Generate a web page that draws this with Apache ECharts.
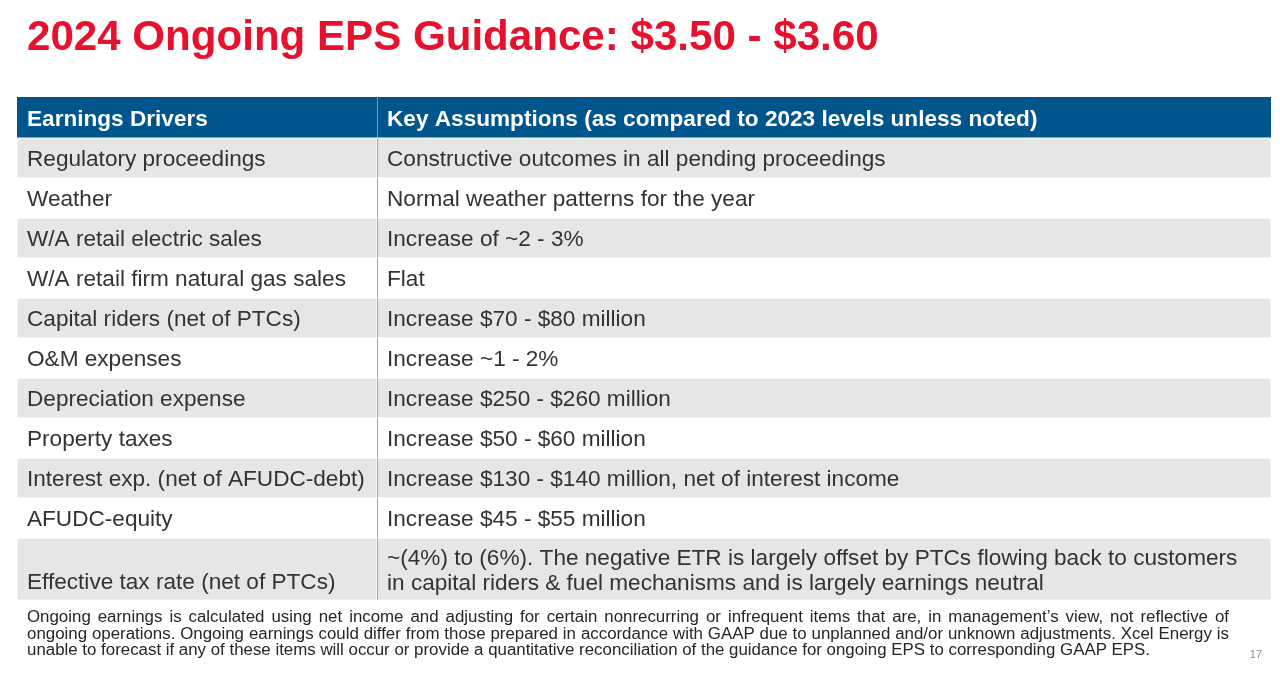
<!DOCTYPE html>
<html>
<head>
<meta charset="utf-8">
<script src="https://cdn.jsdelivr.net/npm/echarts@6/dist/echarts.min.js"></script>
<style>
html,body{margin:0;padding:0;background:#fff;}
#main{width:1280px;height:674px;}
</style>
</head>
<body>
<div id="main"></div>
<script>
// ---------- DATA ----------
const titleText = '2024 Ongoing EPS Guidance: $3.50 - $3.60';
const headers = ['Earnings Drivers', 'Key Assumptions (as compared to 2023 levels unless noted)'];
const drivers = [
  'Regulatory proceedings',
  'Weather',
  'W/A retail electric sales',
  'W/A retail firm natural gas sales',
  'Capital riders (net of PTCs)',
  'O&M expenses',
  'Depreciation expense',
  'Property taxes',
  'Interest exp. (net of AFUDC-debt)',
  'AFUDC-equity',
  'Effective tax rate (net of PTCs)'
];
const assumptions = [
  'Constructive outcomes in all pending proceedings',
  'Normal weather patterns for the year',
  'Increase of ~2 - 3%',
  'Flat',
  'Increase $70 - $80 million',
  'Increase ~1 - 2%',
  'Increase $250 - $260 million',
  'Increase $50 - $60 million',
  'Increase $130 - $140 million, net of interest income',
  'Increase $45 - $55 million',
  '~(4%) to (6%). The negative ETR is largely offset by PTCs flowing back to customers\nin capital riders & fuel mechanisms and is largely earnings neutral'
];
const footnoteLines = [
  'Ongoing earnings is calculated using net income and adjusting for certain nonrecurring or infrequent items that are, in management\u2019s view, not reflective of',
  'ongoing operations. Ongoing earnings could differ from those prepared in accordance with GAAP due to unplanned and/or unknown adjustments. Xcel Energy is',
  'unable to forecast if any of these items will occur or provide a quantitative reconciliation of the guidance for ongoing EPS to corresponding GAAP EPS.'
];
const pageNumber = '17';

// ---------- LAYOUT ----------
const FONT = '"Liberation Sans", Arial, Helvetica, sans-serif';
const rows = [headers].concat(drivers.map((d, i) => [d, assumptions[i]]));
const HEADER_H = 41, ROW_H = 40, EXTRA_LINE_H = 22;
const CELL_FONT = 22.6;
const rowH = rows.map((r, i) => i === 0 ? HEADER_H : ROW_H + (r[1].split('\n').length - 1) * EXTRA_LINE_H);
const rowTop = [];
rowH.reduce((acc, h, i) => { rowTop[i] = acc; return acc + h; }, 0);
const totalH = rowH.reduce((a, b) => a + b, 0);
const colX = [0, 0.2871, 1];

const cellData = [];
rows.forEach((r, ri) => { cellData.push([0, ri]); cellData.push([1, ri]); });

function renderCell(params, api) {
  const c = api.value(0), r = api.value(1);
  const p0 = api.coord([colX[c], rowTop[r]]);
  const p1 = api.coord([colX[c + 1], rowTop[r] + rowH[r]]);
  const x0 = p0[0], y0 = Math.min(p0[1], p1[1]), x1 = p1[0], y1 = Math.max(p0[1], p1[1]);
  const isHeader = r === 0;
  const fill = isHeader ? '#00558c' : (r % 2 === 1 ? '#e6e6e6' : '#ffffff');
  const text = rows[r][c];
  const children = [{
    type: 'rect',
    shape: { x: x0, y: y0, width: x1 - x0, height: y1 - y0 },
    style: { fill: fill, stroke: isHeader ? null : '#ffffff', lineWidth: 1 }
  }];
  const multi = text.indexOf('\n') >= 0;
  const tall = rowH[r] > ROW_H + 1 && !isHeader;
  let ty, va;
  if (tall && !multi) { ty = y1 - 5; va = 'bottom'; }
  else { ty = (y0 + y1) / 2 + 2; va = 'middle'; }
  children.push({
    type: 'text',
    style: {
      x: x0 + 10, y: ty, text: text,
      fill: isHeader ? '#ffffff' : '#333333',
      fontSize: CELL_FONT, fontWeight: isHeader ? 'bold' : 'normal',
      fontFamily: FONT, align: 'left', verticalAlign: va, lineHeight: 25
    }
  });
  if (c === 1) {
    children.push({
      type: 'line',
      shape: { x1: x0 + 0.5, y1: y0, x2: x0 + 0.5, y2: y1 },
      style: { stroke: isHeader ? '#7a9cbb' : '#a6a6a6', lineWidth: 1 }
    });
  }
  return { type: 'group', children: children };
}

// footnote: slightly condensed-height font stretched horizontally; first lines justified
const FOOT_SIZE = 15.6, FOOT_LEFT = 27, FOOT_RIGHT = 1229, FOOT_LAST_RIGHT = 1150, FOOT_TOP = 618, FOOT_LH = 16.4;
const ctx = document.createElement('canvas').getContext('2d');
ctx.font = FOOT_SIZE + 'px ' + FONT;
const lastLine = footnoteLines[footnoteLines.length - 1];
const FOOT_SX = (FOOT_LAST_RIGHT - FOOT_LEFT) / ctx.measureText(lastLine).width;
const graphics = [];
footnoteLines.forEach((line, li) => {
  const y = FOOT_TOP + li * FOOT_LH;
  if (li < footnoteLines.length - 1) {
    const words = line.split(' ');
    const widths = words.map(w => ctx.measureText(w).width * FOOT_SX);
    const sum = widths.reduce((a, b) => a + b, 0);
    const gap = (FOOT_RIGHT - FOOT_LEFT - sum) / (words.length - 1);
    let x = FOOT_LEFT;
    words.forEach((w, wi) => {
      graphics.push({ type: 'text', x: x, y: y, scaleX: FOOT_SX, silent: true,
        style: { text: w, fontSize: FOOT_SIZE, fontFamily: FONT, fill: '#262626', verticalAlign: 'middle', align: 'left' } });
      x += widths[wi] + gap;
    });
  } else {
    graphics.push({ type: 'text', x: FOOT_LEFT, y: y, scaleX: FOOT_SX, silent: true,
      style: { text: line, fontSize: FOOT_SIZE, fontFamily: FONT, fill: '#262626', verticalAlign: 'middle', align: 'left' } });
  }
});
graphics.push({ type: 'text', x: 1262, y: 655, silent: true,
  style: { text: pageNumber, fontSize: 11, fontFamily: FONT, fill: '#8c8c8c', verticalAlign: 'middle', align: 'right' } });

const chart = echarts.init(document.getElementById('main'), null, { renderer: 'canvas' });
chart.setOption({
  animation: false,
  backgroundColor: '#ffffff',
  title: {
    text: titleText, left: 22, top: 12,
    textStyle: { fontSize: 42.1, fontWeight: 'bold', color: '#e8112d', fontFamily: FONT }
  },
  grid: { left: 17, right: 9, top: 97, height: totalH },
  xAxis: { type: 'value', min: 0, max: 1, show: false },
  yAxis: { type: 'value', min: 0, max: totalH, inverse: true, show: false },
  series: [{
    type: 'custom',
    renderItem: renderCell,
    data: cellData,
    encode: { x: 0, y: 1 },
    silent: true
  }],
  graphic: graphics
});
</script>
</body>
</html>
